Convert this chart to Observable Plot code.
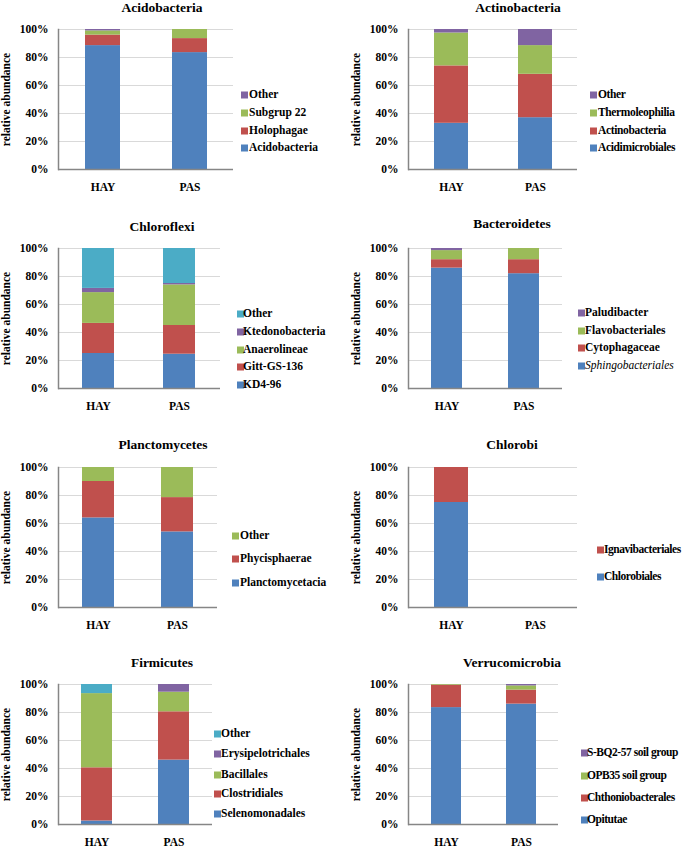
<!DOCTYPE html>
<html>
<head>
<meta charset="utf-8">
<script src="https://cdn.jsdelivr.net/npm/d3@7"></script>
<script src="https://cdn.jsdelivr.net/npm/@observablehq/plot@0.6"></script>
<style>
  html, body { margin: 0; padding: 0; background: #fff; }
  #root { position: relative; width: 685px; height: 851px; overflow: hidden;
          font-family: "Liberation Serif", "Times New Roman", serif; font-weight: bold; color: #000; }
  .panel { position: absolute; }
  .title { position: absolute; font-size: 13.5px; white-space: nowrap; transform: translate(-50%, -50%); }
  .leg { position: absolute; font-size: 11.5px; white-space: nowrap; transform: translateY(-50%); line-height: 1; }
  .sw { position: absolute; width: 7px; height: 7px; transform: translateY(-50%); }
</style>
</head>
<body>
<div id="root"></div>
<script>
// ---- data (percent of phylum) ----
const samples = ["HAY", "PAS"];
const yTicks = [0, 0.2, 0.4, 0.6, 0.8, 1];

const acidoSeries = ["Acidobacteria", "Holophagae", "Subgrup 22", "Other"];
const acidoHAY = [88.5, 7.5, 3, 1];
const acidoPAS = [83.5, 10, 6.5, 0];

const actinoSeries = ["Acidimicrobiales", "Actinobacteria", "Thermoleophilia", "Other"];
const actinoHAY = [33, 41, 23.5, 2.5];
const actinoPAS = [37, 31, 20.5, 11.5];

const chloroSeries = ["KD4-96", "Gitt-GS-136", "Anaerolineae", "Ktedonobacteria", "Other"];
const chloroHAY = [25, 21.5, 22, 3, 28.5];
const chloroPAS = [24.5, 20.5, 29, 1, 25];

const bacteroSeries = ["Sphingobacteriales", "Cytophagaceae", "Flavobacteriales", "Paludibacter"];
const bacteroHAY = [86, 6, 6.5, 1.5];
const bacteroPAS = [82, 10, 8, 0];

const planctoSeries = ["Planctomycetacia", "Phycisphaerae", "Other"];
const planctoHAY = [64, 26, 10];
const planctoPAS = [54, 24.5, 21.5];

const chlorobiSeries = ["Chlorobiales", "Ignavibacteriales"];
const chlorobiHAY = [75, 25];
const chlorobiPAS = [0, 0];

const firmSeries = ["Selenomonadales", "Clostridiales", "Bacillales", "Erysipelotrichales", "Other"];
const firmHAY = [2.5, 38, 53, 0, 6.5];
const firmPAS = [46, 34.5, 14, 5.5, 0];

const verruSeries = ["Opitutae", "Chthoniobacterales", "OPB35 soil group", "S-BQ2-57 soil group"];
const verruHAY = [83.5, 16, 0.5, 0];
const verruPAS = [86, 10, 3, 1];

const palette = ["#4F81BD", "#C0504D", "#9BBB59", "#8064A2", "#4BACC6"];

// ---- layout ----
const panels = [
  {title: "Acidobacteria", series: acidoSeries, vals: [acidoHAY, acidoPAS], fx: [58, 233], fy: [29, 169], tx: 162, ty: 8, sx: 241, lx: 249, ly: [95, 113, 131, 148], fs: 11.5, ls: 0},
  {title: "Actinobacteria", series: actinoSeries, vals: [actinoHAY, actinoPAS], fx: [408, 577], fy: [29, 169], tx: 518, ty: 8, sx: 590, lx: 598, ly: [95, 113, 131, 148], fs: 11.5, ls: -0.35},
  {title: "Chloroflexi", series: chloroSeries, vals: [chloroHAY, chloroPAS], fx: [58, 220], fy: [248, 388], tx: 162, ty: 227, sx: 237, lx: 243, ly: [314, 332, 350, 367, 385], fs: 11.5, ls: 0},
  {title: "Bacteroidetes", series: bacteroSeries, vals: [bacteroHAY, bacteroPAS], fx: [408, 562], fy: [248, 388], tx: 512, ty: 224, sx: 578, lx: 585, ly: [313, 331, 348, 366], italic: "Sphingobacteriales", fs: 11.5, ls: 0},
  {title: "Planctomycetes", series: planctoSeries, vals: [planctoHAY, planctoPAS], fx: [58, 217], fy: [467, 607], tx: 163, ty: 445, sx: 232, lx: 240, ly: [536, 559, 583], fs: 11.5, ls: 0},
  {title: "Chlorobi", series: chlorobiSeries, vals: [chlorobiHAY, chlorobiPAS], fx: [408, 577], fy: [467, 607], tx: 512, ty: 445, sx: 597, lx: 604, ly: [550, 577], fs: 11.5, ls: -0.45},
  {title: "Firmicutes", series: firmSeries, vals: [firmHAY, firmPAS], fx: [58, 212], fy: [684, 824], tx: 162, ty: 663, sx: 214, lx: 221, ly: [734, 754, 775, 794, 814], fs: 11.5, ls: 0},
  {title: "Verrucomicrobia", series: verruSeries, vals: [verruHAY, verruPAS], fx: [408, 558], fy: [684, 824], tx: 512, ty: 663, sx: 581, lx: 587, ly: [753, 776, 798, 820], fs: 11.5, ls: -0.45}
];

const root = document.getElementById("root");
const mL = 58, mT = 6, mB = 32;

for (const p of panels) {
  const rows = samples.flatMap((s, i) => p.series.map((name, j) => ({sample: s, taxon: name, value: p.vals[i][j] / 100})));
  const colors = palette.slice(0, p.series.length);
  const w = p.fx[1] - p.fx[0];
  const h = p.fy[1] - p.fy[0];
  const chart = Plot.plot({
    width: mL + w, height: mT + h + mB,
    marginLeft: mL, marginRight: 0, marginTop: mT, marginBottom: mB,
    style: {fontFamily: "'Liberation Serif', 'Times New Roman', serif", fontWeight: "bold", fontSize: "11.5px", color: "#000", background: "transparent", overflow: "visible"},
    x: {domain: samples, paddingInner: 0.6, paddingOuter: 0.3, label: null},
    y: {domain: [0, 1], label: null},
    color: {domain: p.series, range: colors},
    marks: [
      Plot.gridY(yTicks, {stroke: "#d9d9d9", strokeOpacity: 1, strokeWidth: 1}),
      Plot.barY(rows, {x: "sample", y: "value", fill: "taxon"}),
      Plot.axisY(yTicks, {tickSize: 0, tickPadding: 10, tickFormat: d => Math.round(d * 100) + "%",
        label: "relative abundance", labelAnchor: "center", labelArrow: "none", labelOffset: 57}),
      Plot.axisX({tickSize: 0, tickPadding: 13, label: null}),
      Plot.ruleY([0], {stroke: "#868686", strokeWidth: 1.5}),
      Plot.frame({anchor: "left", stroke: "#868686", strokeWidth: 1.5})
    ]
  });
  const div = document.createElement("div");
  div.className = "panel";
  div.style.left = (p.fx[0] - mL) + "px";
  div.style.top = (p.fy[0] - mT) + "px";
  div.appendChild(chart);
  root.appendChild(div);

  const t = document.createElement("div");
  t.className = "title";
  t.style.left = p.tx + "px";
  t.style.top = p.ty + "px";
  t.textContent = p.title;
  root.appendChild(t);

  const legendOrder = p.series.map((s, i) => [s, colors[i]]).reverse();
  legendOrder.forEach(([name, c], k) => {
    const sw = document.createElement("div");
    sw.className = "sw";
    sw.style.left = p.sx + "px";
    sw.style.top = p.ly[k] + "px";
    sw.style.background = c;
    root.appendChild(sw);
    const lt = document.createElement("div");
    lt.className = "leg";
    lt.style.left = p.lx + "px";
    lt.style.top = p.ly[k] + "px";
    lt.style.fontSize = p.fs + "px";
    lt.style.letterSpacing = p.ls + "px";
    lt.textContent = name;
    if (name === p.italic) { lt.style.fontStyle = "italic"; lt.style.fontWeight = "normal"; }
    root.appendChild(lt);
  });
}
</script>
</body>
</html>
